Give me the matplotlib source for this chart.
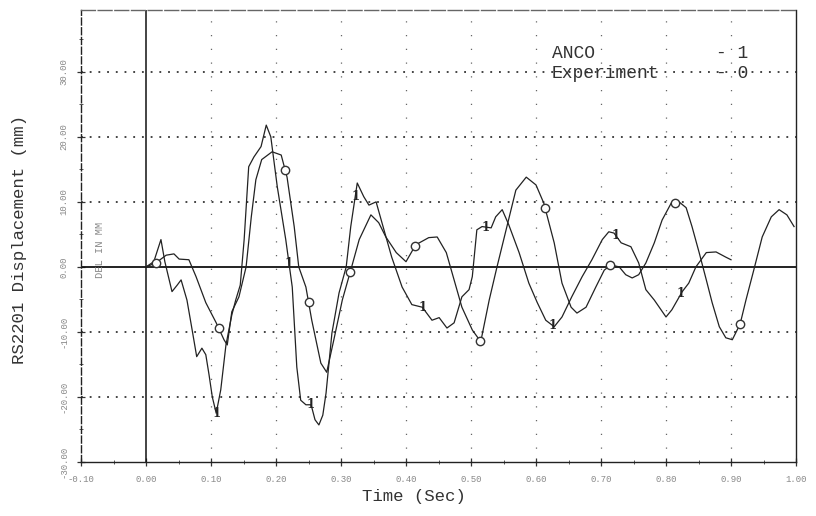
import numpy as np
import matplotlib
matplotlib.use("Agg")
import matplotlib.pyplot as plt

# ---------------- data ----------------
exp_t = [0.000, 0.015, 0.031, 0.043, 0.051, 0.066, 0.077, 0.092, 0.108, 0.120, 0.125, 0.132,
         0.143, 0.154, 0.162, 0.169, 0.178, 0.194, 0.208, 0.217, 0.228, 0.235, 0.246, 0.255,
         0.269, 0.278, 0.289, 0.302, 0.315, 0.328, 0.346, 0.358, 0.369, 0.385, 0.400, 0.415,
         0.435, 0.448, 0.462, 0.474, 0.486, 0.502, 0.515, 0.528, 0.540, 0.554, 0.569, 0.585,
         0.600, 0.612, 0.628, 0.640, 0.654, 0.663, 0.677, 0.692, 0.705, 0.715, 0.728, 0.738,
         0.748, 0.758, 0.769, 0.782, 0.794, 0.808, 0.820, 0.831, 0.840, 0.851, 0.862, 0.871,
         0.882, 0.892, 0.902, 0.914, 0.923, 0.935, 0.948, 0.962, 0.974, 0.986, 0.997]
exp_y = [0.0, 0.6, 1.8, 2.0, 1.2, 1.1, -1.5, -5.5, -8.6, -11.2, -12.0, -6.9,
         -4.6, 0.0, 7.7, 13.4, 16.5, 17.7, 17.2, 13.8, 6.2, 0.0, -3.1, -8.2,
         -14.8, -16.2, -11.2, -5.1, -0.5, 4.2, 8.0, 6.8, 4.6, 2.2, 0.8, 3.4,
         4.5, 4.6, 2.2, -2.0, -6.2, -9.7, -11.5, -5.1, 0.0, 5.7, 11.8, 13.8,
         12.6, 9.8, 3.7, -2.5, -6.2, -7.1, -6.2, -3.1, -0.5, 0.3, 0.0, -1.2,
         -1.7, -1.2, 0.6, 3.7, 7.2, 9.8, 10.0, 9.1, 6.2, 2.2, -2.0, -5.5,
         -9.2, -10.9, -11.2, -8.8, -5.1, -0.5, 4.6, 7.7, 8.8, 8.0, 6.2]

anco_t = [0.000, 0.012, 0.023, 0.029, 0.040, 0.048, 0.054, 0.063, 0.071, 0.078, 0.086, 0.092,
          0.097, 0.102, 0.108, 0.115, 0.123, 0.132, 0.138, 0.145, 0.151, 0.158, 0.166, 0.177,
          0.185, 0.192, 0.202, 0.215, 0.225, 0.232, 0.238, 0.246, 0.254, 0.260, 0.266, 0.272,
          0.277, 0.286, 0.297, 0.308, 0.315, 0.325, 0.335, 0.343, 0.354, 0.363, 0.378, 0.394,
          0.409, 0.425, 0.440, 0.451, 0.463, 0.474, 0.486, 0.497, 0.502, 0.509, 0.517, 0.531,
          0.538, 0.548, 0.558, 0.574, 0.589, 0.602, 0.615, 0.628, 0.640, 0.655, 0.671, 0.686,
          0.702, 0.712, 0.720, 0.731, 0.746, 0.758, 0.769, 0.782, 0.800, 0.809, 0.825, 0.835,
          0.846, 0.862, 0.877, 0.892, 0.900]
anco_y = [0.0, 0.8, 4.2, 0.8, -3.8, -2.8, -2.0, -5.1, -9.7, -13.8, -12.5, -13.5,
          -16.6, -20.0, -22.5, -18.9, -12.0, -7.4, -5.1, -2.8, 4.2, 15.4, 16.9, 18.5,
          21.8, 20.0, 12.3, 4.2, -3.1, -15.4, -20.5, -21.2, -21.2, -23.5, -24.3, -22.8,
          -19.4, -10.2, -4.0, 0.0, 6.2, 12.9, 10.8, 9.5, 10.0, 6.8, 1.5, -3.1,
          -5.8, -6.2, -8.2, -7.8, -9.4, -8.6, -4.6, -3.5, -1.5, 5.7, 6.2, 6.0,
          7.7, 8.8, 6.5, 2.2, -2.5, -5.5, -8.2, -9.2, -7.7, -4.6, -1.5, 1.1,
          4.2, 5.4, 5.2, 3.7, 3.1, 0.6, -3.5, -5.1, -7.7, -6.6, -3.8, -2.5,
          0.0, 2.2, 2.3, 1.5, 1.1]

# where the curve symbols sit (time, s)
exp_mark_t = [0.015, 0.112, 0.214, 0.250, 0.314, 0.414, 0.514, 0.614, 0.714, 0.814, 0.914]
anco_mark_t = [0.108, 0.220, 0.254, 0.322, 0.425, 0.523, 0.625, 0.723, 0.823]

x_ticks = [-0.10, 0.00, 0.10, 0.20, 0.30, 0.40, 0.50, 0.60, 0.70, 0.80, 0.90, 1.00]
y_ticks = [-30, -20, -10, 0, 10, 20, 30]
legend_names = ["ANCO", "Experiment"]
legend_codes = ["- 1", "- 0"]

# ---------------- figure ----------------
W, H = 816, 516
fig = plt.figure(figsize=(W / 100, H / 100), dpi=100)
ax = fig.add_axes([81 / W, 1 - 462 / H, (796 - 81) / W, (462 - 10) / H])
ax.set_xlim(-0.10, 1.00)
ax.set_ylim(-30, 39.5)

mono = "Liberation Mono"
line_col = "#222222"

# grid
for yv in y_ticks:
    if yv == 0 or yv == -30:
        continue
    ax.axhline(yv, color="#111111", lw=1.1, ls=(0, (1.2, 4.5)), zorder=1)
for xv in x_ticks[2:-1]:
    ax.axvline(xv, color="#666666", lw=0.9, ls=(0, (1, 10)), zorder=1)
ax.axhline(0, color="#111111", lw=1.3, zorder=2)
ax.axvline(0, color="#111111", lw=1.1, zorder=2)

# curves
ax.plot(exp_t, exp_y, color=line_col, lw=0.9, zorder=3)
ax.plot(anco_t, anco_y, color=line_col, lw=0.9, zorder=3)

# symbols
em_y = np.interp(exp_mark_t, exp_t, exp_y)
ax.plot(exp_mark_t, em_y, ls="none", marker="o", ms=6, mfc="white",
        mec="#333333", mew=1.0, zorder=4)
am_y = np.interp(anco_mark_t, anco_t, anco_y)
for tx, ty in zip(anco_mark_t, am_y):
    ax.text(tx, ty, "1", fontsize=8.5, family="DejaVu Serif", fontweight="bold",
            color="#222222", ha="center", va="center", zorder=4)

# ticks
ax.set_xticks(x_ticks)
ax.set_xticklabels([f"{v:.2f}" for v in x_ticks], fontsize=6.5, color="#888888", family=mono)
ax.set_xticks(np.arange(-0.05, 1.0, 0.1), minor=True)
ax.set_yticks(y_ticks)
ax.set_yticklabels([f"{v:.2f}" for v in y_ticks], fontsize=6.5, color="#888888",
                   family=mono, rotation=90, va="center")
ax.set_yticks(np.arange(-25, 40, 10), minor=True)
ax.tick_params(axis="both", which="major", direction="inout", length=6, width=0.9,
               color="#333333", pad=6)
ax.tick_params(axis="both", which="minor", direction="inout", length=3, width=0.7,
               color="#555555")

# spines
for s in ["left", "right", "bottom", "top"]:
    ax.spines[s].set_color("#222222")
    ax.spines[s].set_linewidth(1.0)
ax.spines["left"].set_linestyle((0, (5, 2)))
ax.spines["top"].set_linestyle((0, (10, 2)))
ax.spines["top"].set_color("#666666")

# legend text
for i, (nm, cd) in enumerate(zip(legend_names, legend_codes)):
    ypix = 53 + 20 * i
    fig.text(552 / W, 1 - ypix / H, nm, fontsize=13, family=mono, color="#333333",
             ha="left", va="center")
    fig.text(716 / W, 1 - ypix / H, cd, fontsize=13, family=mono, color="#333333",
             ha="left", va="center")

# residual inner label
ax.text(0.026, 0.47, "DEL IN MM", transform=ax.transAxes, rotation=90, fontsize=7.5,
        family=mono, color="#888888", ha="center", va="center")

# axis titles
fig.text(20 / W, 1 - 240 / H, "RS2201 Displacement (mm)", rotation=90, fontsize=12.5,
         family=mono, color="#333333", ha="center", va="center")
fig.text(414 / W, 1 - 496 / H, "Time (Sec)", fontsize=12.5, family=mono,
         color="#333333", ha="center", va="center")

fig.savefig("out.png", dpi=100, facecolor="white")
